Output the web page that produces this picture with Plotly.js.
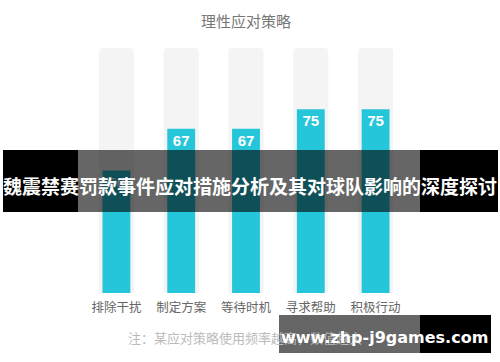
<!DOCTYPE html>
<html>
<head>
<meta charset="utf-8">
<script src="https://cdn.plot.ly/plotly-3.0.1.min.js"></script>
<style>
html,body{margin:0;padding:0;background:#fff;}
#chart{width:500px;height:362px;}
</style>
</head>
<body>
<div id="chart"></div>
<script>
const categories = ["排除干扰", "制定方案", "等待时机", "寻求帮助", "积极行动"];
const values = [50, 67, 67, 75, 75];
const maxValues = [100, 100, 100, 100, 100];
const chartTitle = "理性应对策略";
const noteText = "注：某应对策略使用频率越高，数值越大";
const bannerText = "魏震禁赛罚款事件应对措施分析及其对球队影响的深度探讨";
const watermarkText = "www.zhp-j9games.com";

const W = 500, H = 362;
const mL = 84, mR = 92, mT = 48, mB = 69;
const pw = W - mL - mR, ph = H - mT - mB;
const px = x => (x - mL) / pw;
const py = y => (H - mB - y) / ph;

const cjk = '"Noto Sans CJK SC", "Noto Sans", sans-serif';

const traces = [
  {
    type: 'bar', x: categories, y: maxValues, width: 0.54,
    marker: {color: '#f4f4f4'}, hoverinfo: 'skip', showlegend: false
  },
  {
    type: 'bar', x: categories, y: values, width: 0.43,
    marker: {color: '#26c6da'},
    text: values.map(String), textposition: 'inside', insidetextanchor: 'end',
    constraintext: 'none',
    textfont: {color: '#ffffff', size: 15, family: '"Liberation Sans", Arial, sans-serif', weight: 'bold'},
    hoverinfo: 'skip', showlegend: false
  }
];

const layout = {
  width: W, height: H,
  margin: {l: mL, r: mR, t: mT, b: mB, pad: 0},
  paper_bgcolor: '#ffffff', plot_bgcolor: '#ffffff',
  barmode: 'overlay', barcornerradius: 4,
  font: {family: cjk},
  title: {text: chartTitle, font: {size: 15, color: '#777777', family: cjk},
          x: 0.5, xref: 'paper', y: 1 - 22 / H, yref: 'container', yanchor: 'middle'},
  xaxis: {range: [-0.5, 4.5], showline: false, showgrid: false, zeroline: false, ticks: '',
          ticklabelstandoff: 5,
          tickfont: {size: 12.5, color: '#666666', family: cjk}, fixedrange: true},
  yaxis: {range: [0, 100], visible: false, fixedrange: true},
  shapes: [
    {type: 'rect', xref: 'paper', yref: 'paper', layer: 'above', line: {width: 0},
     x0: px(3), x1: px(78), y0: py(150), y1: py(212), fillcolor: '#000000'},
    {type: 'rect', xref: 'paper', yref: 'paper', layer: 'above', line: {width: 0},
     x0: px(78), x1: px(420), y0: py(150), y1: py(212), fillcolor: 'rgba(0,0,0,0.6)'},
    {type: 'rect', xref: 'paper', yref: 'paper', layer: 'above', line: {width: 0},
     x0: px(420), x1: px(498), y0: py(150), y1: py(212), fillcolor: '#000000'},
    {type: 'rect', xref: 'paper', yref: 'paper', layer: 'above', line: {width: 0},
     x0: px(279), x1: px(420), y0: py(315), y1: py(353), fillcolor: 'rgba(0,0,0,0.6)'},
    {type: 'rect', xref: 'paper', yref: 'paper', layer: 'above', line: {width: 0},
     x0: px(420), x1: px(491), y0: py(315), y1: py(353), fillcolor: '#000000'}
  ],
  annotations: [
    {text: noteText, xref: 'paper', yref: 'paper', x: px(126), y: py(337),
     xanchor: 'left', yanchor: 'middle', showarrow: false,
     font: {size: 13, color: '#bbbbbb', family: cjk}},
    {text: bannerText, xref: 'paper', yref: 'paper', x: px(250.5), y: py(185),
     xanchor: 'center', yanchor: 'middle', showarrow: false,
     font: {size: 19, color: '#ffffff', family: cjk, weight: 'bold'}},
    {text: watermarkText, xref: 'paper', yref: 'paper', x: px(384), y: py(337),
     xanchor: 'center', yanchor: 'middle', showarrow: false,
     font: {size: 16, color: '#ffffff', family: '"DejaVu Sans", sans-serif', weight: 'bold'}}
  ]
};

Plotly.newPlot('chart', traces, layout, {displayModeBar: false, staticPlot: true});
</script>
</body>
</html>
